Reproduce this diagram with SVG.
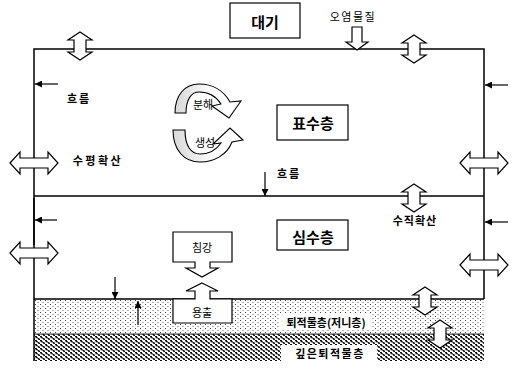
<svg xmlns="http://www.w3.org/2000/svg" width="515" height="371" viewBox="0 0 515 371">
<style>
.ln{stroke:#000;stroke-width:1.5;fill:none}
.box{fill:#fff;stroke:#000;stroke-width:1.2}
.blk{fill:#fff;stroke:#000;stroke-width:1.2;stroke-linejoin:miter}
.arr{stroke:#000;stroke-width:1.2;fill:none}
.t{font-family:"Noto Sans CJK KR","Noto Sans",sans-serif;text-anchor:middle;dominant-baseline:central;fill:#000}
.b{font-weight:bold;font-size:11px}
.n{font-weight:normal;font-size:11px}
.big{font-weight:bold;font-size:15px}
</style>
<defs>
<marker id="ah" viewBox="0 0 10 10" refX="10" refY="5" markerWidth="7" markerHeight="7" markerUnits="userSpaceOnUse" orient="auto"><path d="M0,0L10,5L0,10Z" fill="#000"/></marker>
<pattern id="light" width="5" height="4" patternUnits="userSpaceOnUse">
<rect width="5" height="4" fill="#fff"/>
<rect x="0" y="0" width="1" height="1" fill="#444"/>
<rect x="2.5" y="2" width="1" height="1" fill="#666"/>
</pattern>
<pattern id="dense" width="5" height="4" patternUnits="userSpaceOnUse">
<rect width="5" height="4" fill="#fff"/>
<path d="M0,0h2v1h0.7v1.2h-2v-1h-0.7z" fill="#111"/>
<path d="M2.5,2h2v1h0.7v1h-2v-1h-0.7z" fill="#111"/>
</pattern>
<linearGradient id="shade" x1="0" y1="0" x2="1" y2="0">
<stop offset="0" stop-color="#d8d8d8"/>
<stop offset="0.4" stop-color="#f2f2f2"/>
<stop offset="0.55" stop-color="#fff"/>
</linearGradient>
<path id="vdbl" d="M0,-14L12,-6L6,-6L6,6L12,6L0,14L-12,6L-6,6L-6,-6L-12,-6Z"/>
<path id="hdbl" d="M-24,0L-14,-11L-14,-5L14,-5L14,-11L24,0L14,11L14,5L-14,5L-14,11Z"/>
</defs>

<g id="sediment">
<rect x="34" y="299" width="450" height="35" fill="url(#light)"/>
<rect x="34" y="334" width="450" height="27" fill="url(#dense)"/>
<line x1="34" y1="334" x2="484" y2="334" stroke="#000" stroke-width="0.8"/>
<rect x="280" y="314" width="92" height="16" fill="#fff"/>
<rect x="281" y="345" width="96" height="16" fill="#fff"/>
</g>

<g id="frame">
<path class="ln" d="M34,361V49H484V299"/>
<line class="ln" x1="34" y1="196" x2="484" y2="196"/>
<line class="ln" x1="34" y1="198" x2="34" y2="245" stroke-width="2.2"/>
<path class="ln" d="M34,299H195M210,299H484"/>
</g>

<g id="connectors">
<line class="arr" x1="58" y1="84" x2="35" y2="84" marker-end="url(#ah)"/>
<line class="arr" x1="508" y1="85" x2="485" y2="85" marker-end="url(#ah)"/>
<line class="arr" x1="57" y1="220" x2="35" y2="220" marker-end="url(#ah)"/>
<line class="arr" x1="508" y1="222" x2="485" y2="222" marker-end="url(#ah)"/>
<line class="arr" x1="265" y1="172" x2="265" y2="196" marker-end="url(#ah)"/>
<line class="arr" x1="115" y1="277" x2="115" y2="299" marker-end="url(#ah)"/>
<line class="arr" x1="138" y1="325" x2="138" y2="301" marker-end="url(#ah)"/>
<use href="#vdbl" class="blk" x="80" y="46"/>
<use href="#vdbl" class="blk" x="414" y="49"/>
<use href="#vdbl" class="blk" x="414" y="198"/>
<use href="#vdbl" class="blk" x="425" y="301"/>
<use href="#vdbl" class="blk" x="440" y="334"/>
<use href="#hdbl" class="blk" x="34" y="163"/>
<use href="#hdbl" class="blk" x="34" y="253"/>
<use href="#hdbl" class="blk" x="484" y="163"/>
<use href="#hdbl" class="blk" x="484" y="265"/>
<path class="blk" d="M352,27H362V42H368L357,50L346,42H352Z" fill="#eee"/>
</g>

<g id="daegi">
<rect class="box" x="230" y="3" width="70" height="35"/>
<text class="t big" x="265" y="21">대기</text>
</g>
<g id="pollutant">
<text class="t n" x="353" y="16" letter-spacing="1.5">오염물질</text>
</g>
<g id="flow1"><text class="t b" x="79" y="98" letter-spacing="2">흐름</text></g>
<g id="cycle">
<path d="M175,113C175,95 185,84 199,84C213,84 224,91 230,102L241,101L229,118L212,106L221,104C216,96 208,92 199,92C191,92 186,100 186,113Z" fill="url(#shade)" stroke="#000" stroke-width="1.1" stroke-linejoin="miter"/>
<path d="M173,130L185,130C185,146 191,154 200,154C210,154 217,149 221,143L213,144L230,128L243,140L232,142C227,155 214,162 200,162C184,162 173,150 173,130Z" fill="url(#shade)" stroke="#000" stroke-width="1.1" stroke-linejoin="miter"/>
<text class="t n" x="203" y="104">분해</text>
<text class="t n" x="205" y="142">생성</text>
</g>
<g id="surface">
<rect class="box" x="277" y="105" width="71" height="35"/>
<text class="t big" x="313" y="122">표수층</text>
</g>
<g id="hdiff"><text class="t b" x="98" y="160" font-size="12.5" letter-spacing="2.5">수평확산</text></g>
<g id="flow2"><text class="t b" x="289" y="173" letter-spacing="2">흐름</text></g>
<g id="vdiff"><text class="t b" x="415" y="220" letter-spacing="1">수직확산</text></g>
<g id="deep">
<rect class="box" x="277" y="220" width="71" height="30"/>
<text class="t big" x="313" y="236">심수층</text>
</g>
<g id="settle">
<path class="blk" d="M173,232H232V262H210V268H218L202,277L186,268H195V262H173Z"/>
<text class="t n" x="202" y="247">침강</text>
</g>
<g id="release">
<path class="blk" d="M202,283L218,291H210V299H232V323H173V299H195V291H186Z"/>
<text class="t n" x="202" y="312">용출</text>
</g>
<g id="sedlabel"><text class="t b" x="326" y="322">퇴적물층(저니층)</text></g>
<g id="deeplabel"><text class="t b" x="330" y="353" letter-spacing="1.5">깊은퇴적물층</text></g>
</svg>
